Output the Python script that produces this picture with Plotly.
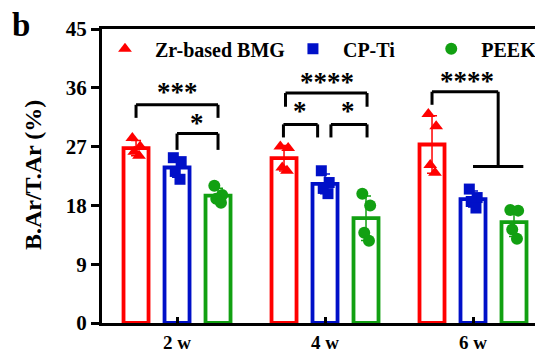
import numpy as np
import plotly.graph_objects as go

categories = ["2 w", "4 w", "6 w"]
series_names = ["Zr-based BMG", "CP-Ti", "PEEK"]

bmg_points = [[28.3, 27.0, 26.2, 25.6], [27.0, 26.8, 23.8, 23.3], [32.0, 30.1, 24.2, 23.0]]
cpti_points = [[25.3, 24.7, 23.2, 22.0], [23.3, 21.5, 20.6, 19.8], [20.5, 19.2, 18.6, 17.6]]
peek_points = [[21.0, 19.6, 19.0, 18.4], [19.8, 18.0, 13.8, 12.6], [17.3, 17.2, 14.3, 12.9]]

y_ticks = [0, 9, 18, 27, 36, 45]

colors = ["#FF0000", "#0010C8", "#12A012"]
symbols = ["triangle-up", "square", "circle"]
msizes = [12, 11, 12]
all_points = [bmg_points, cpti_points, peek_points]
legend_ids = ["legend", "legend2", "legend3"]
legend_x = [-0.0156, 0.403, 0.711]

OFF = 0.277
BW = 0.169
jitter = [-0.025, 0.028, -0.012, 0.02]
FONT = "Liberation Serif"

fig = go.Figure()
cat_idx = np.arange(len(categories))

for s, (name, pts) in enumerate(zip(series_names, all_points)):
    means = [float(np.mean(p)) for p in pts]
    sds = [float(np.std(p, ddof=1)) for p in pts]
    off = (s - 1) * OFF
    fig.add_trace(go.Bar(
        x=cat_idx + off, y=means, width=BW,
        marker=dict(color="white", line=dict(color=colors[s], width=3.8)),
        error_y=dict(type="data", array=sds, visible=True, color=colors[s], thickness=1.5, width=5),
        showlegend=False, hoverinfo="skip"))
    xs, ys = [], []
    for c, p in enumerate(pts):
        for k, v in enumerate(p):
            xs.append(c + off + jitter[k % len(jitter)])
            ys.append(v)
    fig.add_trace(go.Scatter(
        x=xs, y=ys, mode="markers", name="<b>%s</b>" % name, legend=legend_ids[s],
        marker=dict(symbol=symbols[s], size=msizes[s], color=colors[s], line=dict(width=0))))

# significance brackets: (x0, x1, y, leg_left_bottom, leg_right_bottom)
brackets = [
    (0 - OFF, 0 + OFF, 33.4, 31.4, 31.4),
    (0, 0 + OFF, 29.0, 26.5, 26.5),
    (1 - OFF + 0.01, 1 + OFF + 0.007, 35.2, 33.1, 33.1),
    (1 - OFF - 0.004, 0.95, 30.4, 28.4, 28.4),
    (1.04, 1 + OFF + 0.007, 30.4, 28.4, 28.4),
    (2 - OFF, 2.17, 35.4, 33.4, 23.95),
]
labels = [
    (0, "***", 36.0), (0.135, "*", 31.3), (1.01, "****", 37.5),
    (0.83, "*", 33.1), (1.155, "*", 33.1), (1.96, "****", 37.7),
]
LW = 3
for x0, x1, y, yl, yr in brackets:
    fig.add_shape(type="line", x0=x0, x1=x1, y0=y, y1=y, line=dict(color="black", width=LW))
    fig.add_shape(type="line", x0=x0, x1=x0, y0=y, y1=yl, line=dict(color="black", width=LW))
    fig.add_shape(type="line", x0=x1, x1=x1, y0=y, y1=yr, line=dict(color="black", width=LW))
fig.add_shape(type="line", x0=2.0, x1=2.34, y0=23.95, y1=23.95, line=dict(color="black", width=LW))

for x, t, y in labels:
    fig.add_annotation(x=x, y=y, text="<b>%s</b>" % t, showarrow=False,
                       font=dict(family=FONT, size=27, color="black"), yanchor="middle", yshift=-4)

fig.add_annotation(xref="paper", yref="paper", x=-0.1537, y=0.503, text="<b>B.Ar/T.Ar (%)</b>",
                   textangle=-90, showarrow=False, font=dict(family=FONT, size=24, color="black"),
                   xanchor="center", yanchor="middle")
fig.add_annotation(xref="paper", yref="paper", x=-0.180, y=1.014, text="<b>b</b>", showarrow=False,
                   font=dict(family=FONT, size=33, color="black"), xanchor="center", yanchor="middle")

leg_common = dict(orientation="h", y=0.999, xanchor="left", yanchor="top",
                  font=dict(family=FONT, size=20, color="black"), bgcolor="rgba(0,0,0,0)",
                  itemwidth=50)
fig.update_layout(
    width=543, height=352, margin=dict(l=94, r=0, t=21, b=37),
    plot_bgcolor="white", paper_bgcolor="white", barmode="overlay",
    font=dict(family=FONT, color="black"),
    legend=dict(x=legend_x[0], **leg_common),
    legend2=dict(x=legend_x[1], **leg_common),
    legend3=dict(x=legend_x[2], **leg_common),
    xaxis=dict(range=[-0.507, 2.527], tickmode="array", tickvals=list(cat_idx),
               ticktext=["<b>%s</b>" % c for c in categories], automargin=False,
               showline=True, linecolor="black", linewidth=3, mirror=True,
               ticks="inside", ticklen=6, tickwidth=3, tickcolor="black",
               showgrid=False, zeroline=False, tickfont=dict(family=FONT, size=19)),
    yaxis=dict(range=[0, 45], tickmode="array", tickvals=y_ticks, automargin=False,
               ticktext=["<b>%d</b>" % v for v in y_ticks],
               showline=True, linecolor="black", linewidth=3,
               ticks="outside", ticklen=8, tickwidth=3, tickcolor="black",
               showgrid=False, zeroline=False, tickfont=dict(family=FONT, size=21)),
)

fig.write_html("out.html")
